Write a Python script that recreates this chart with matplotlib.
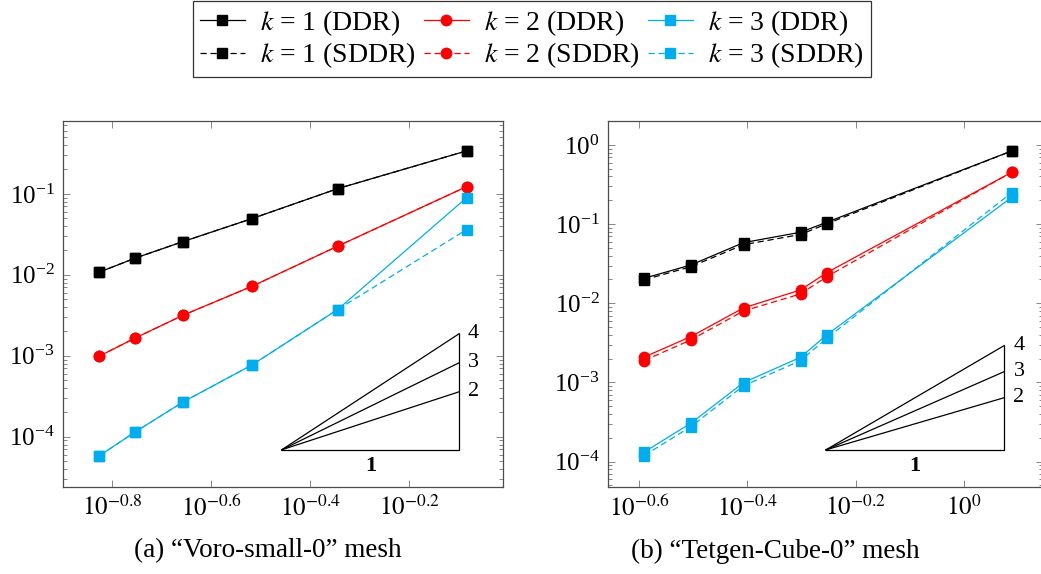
import matplotlib
matplotlib.use("Agg")
import matplotlib.pyplot as plt
from matplotlib.ticker import LogLocator, NullLocator, NullFormatter

plt.rcParams['font.family'] = ['Liberation Serif', 'DejaVu Serif']
plt.rcParams['mathtext.fontset'] = 'stix'

# ---- data: (a) Voro-small-0 ----
h_a = [0.1494, 0.1766, 0.2208, 0.3043, 0.4529, 0.8254]
k1_ddr_a = [0.0108, 0.0161, 0.0258, 0.0496, 0.116, 0.340]
k1_sddr_a = [0.0108, 0.0161, 0.0258, 0.0496, 0.116, 0.340]
k2_ddr_a = [0.00099, 0.00166, 0.00318, 0.00724, 0.0226, 0.123]
k2_sddr_a = [0.00099, 0.00166, 0.00318, 0.00724, 0.0226, 0.123]
k3_ddr_a = [5.82e-5, 1.15e-4, 2.70e-4, 7.74e-4, 3.73e-3, 0.090]
k3_sddr_a = [5.82e-5, 1.15e-4, 2.70e-4, 7.74e-4, 3.73e-3, 0.0363]

# ---- data: (b) Tetgen-Cube-0 ----
h_b = [0.2565, 0.313, 0.3916, 0.499, 0.558, 1.225]
k1_ddr_b = [0.0207, 0.0305, 0.0584, 0.079, 0.1057, 0.840]
k1_sddr_b = [0.0198, 0.029, 0.055, 0.074, 0.101, 0.840]
k2_ddr_b = [0.00209, 0.0038, 0.00875, 0.01476, 0.0244, 0.452]
k2_sddr_b = [0.00189, 0.00345, 0.0080, 0.01314, 0.0217, 0.452]
k3_ddr_b = [1.32e-4, 3.06e-4, 9.97e-4, 2.08e-3, 3.99e-3, 0.218]
k3_sddr_b = [1.19e-4, 2.77e-4, 9.06e-4, 1.89e-3, 3.62e-3, 0.250]

# slope triangles: (x start, x end, y base)
tri_a = (0.349, 0.797, 6.9e-5)
tri_b = (0.556, 1.187, 1.41e-4)
slopes = [2, 3, 4]

xticks_a = [10**-0.8, 10**-0.6, 10**-0.4, 10**-0.2]
xlabels_a = [r'$10^{-0.8}$', r'$10^{-0.6}$', r'$10^{-0.4}$', r'$10^{-0.2}$']
xticks_b = [10**-0.6, 10**-0.4, 10**-0.2, 10**0]
xlabels_b = [r'$10^{-0.6}$', r'$10^{-0.4}$', r'$10^{-0.2}$', r'$10^{0}$']

black = 'black'
red = '#ff0000'
blue = '#00aeef'
fs = 18

fig = plt.figure(figsize=(10.41, 5.74), dpi=100)
ax1 = fig.add_axes([0.0605, 0.1516, 0.4227, 0.6376])
ax2 = fig.add_axes([0.5838, 0.1516, 0.4181, 0.6376])


def draw(ax, h, series, tri, xticks, xlabels, xlim, ylim):
    handles = []
    for ddr, sddr, col, mk, ms, lab in series:
        l1, = ax.plot(h, ddr, '-', color=col, marker=mk, ms=ms, lw=0.9,
                      label=r'$k$ = %s (DDR)' % lab)
        l2, = ax.plot(h, sddr, '--', color=col, marker=mk, ms=ms, lw=0.9,
                      dashes=(5, 3), label=r'$k$ = %s (SDDR)' % lab)
        handles += [l1, l2]
    x0, x1, y0 = tri
    ax.plot([x0, x1, x1], [y0, y0, y0 * (x1 / x0) ** 4], color='black', lw=0.9)
    for p in slopes:
        yt = y0 * (x1 / x0) ** p
        ax.plot([x0, x1], [y0, yt], color='black', lw=0.9)
        ax.text(x1 * 1.04, yt, str(p), fontsize=fs - 2, va='center', ha='left')
    ax.text((x0 * x1) ** 0.5, y0 / 1.2, '1', fontsize=fs - 2, va='top',
            ha='center', fontweight='bold')
    ax.set_xscale('log')
    ax.set_yscale('log')
    ax.set_xlim(xlim)
    ax.set_ylim(ylim)
    ax.set_xticks(xticks)
    ax.set_xticklabels(xlabels)
    ax.xaxis.set_minor_locator(NullLocator())
    ax.yaxis.set_major_locator(LogLocator(base=10, numticks=10))
    ax.yaxis.set_minor_locator(LogLocator(base=10, subs=range(2, 10), numticks=10))
    ax.yaxis.set_minor_formatter(NullFormatter())
    ax.tick_params(which='both', direction='in', top=True, right=True,
                   labelsize=fs, color='0.45', width=0.6)
    ax.tick_params(which='major', length=5, pad=6)
    ax.tick_params(which='minor', length=3)
    for s in ax.spines.values():
        s.set_color('0.3')
        s.set_linewidth(0.9)
    return handles


series_a = [(k1_ddr_a, k1_sddr_a, black, 's', 7, '1'),
            (k2_ddr_a, k2_sddr_a, red, 'o', 7.5, '2'),
            (k3_ddr_a, k3_sddr_a, blue, 's', 7, '3')]
series_b = [(k1_ddr_b, k1_sddr_b, black, 's', 7, '1'),
            (k2_ddr_b, k2_sddr_b, red, 'o', 7.5, '2'),
            (k3_ddr_b, k3_sddr_b, blue, 's', 7, '3')]

handles = draw(ax1, h_a, series_a, tri_a, xticks_a, xlabels_a,
               (10**-0.899, 10**-0.01), (10**-4.62, 10**-0.1))
draw(ax2, h_b, series_b, tri_b, xticks_b, xlabels_b,
     (10**-0.658, 10**0.146), (10**-4.32, 10**0.303))

leg = fig.legend(handles=handles, ncol=3, loc='upper center',
                 bbox_to_anchor=(0.511, 0.998), fontsize=20,
                 frameon=True, fancybox=False, edgecolor='black',
                 handlelength=1.6, handletextpad=0.55, columnspacing=0.3,
                 labelspacing=0.1, borderpad=0.25, borderaxespad=0)
leg.get_frame().set_linewidth(0.9)

fig.text(0.257, 0.04, '(a) \u201cVoro-small-0\u201d mesh', fontsize=19.5,
         ha='center', va='center')
fig.text(0.745, 0.04, '(b) \u201cTetgen-Cube-0\u201d mesh', fontsize=19.5,
         ha='center', va='center')

fig.savefig('out.png', dpi=100)
